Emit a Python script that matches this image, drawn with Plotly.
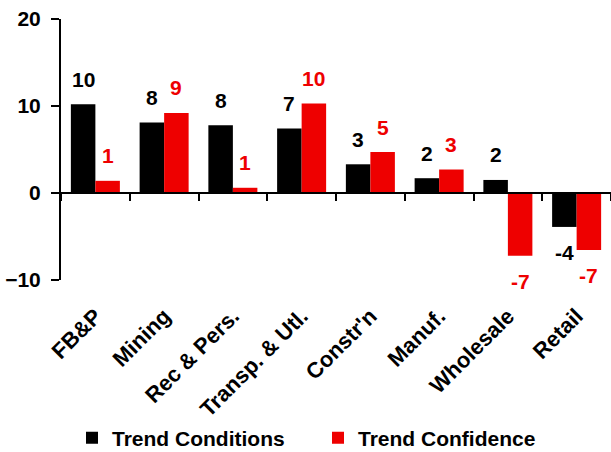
import plotly.graph_objects as go

categories = ["FB&P", "Mining", "Rec & Pers.", "Transp. & Utl.", "Constr'n", "Manuf.", "Wholesale", "Retail"]
trend_conditions = [10.2, 8.1, 7.8, 7.4, 3.3, 1.7, 1.5, -3.9]
trend_confidence = [1.4, 9.2, 0.6, 10.3, 4.7, 2.7, -7.2, -6.55]
y_ticks = [-10, 0, 10, 20]

BLACK = "#000000"
RED = "#EE0000"
FONT = "Liberation Sans, Arial, sans-serif"

fig = go.Figure()
fig.add_trace(go.Bar(x=categories, y=trend_conditions, name="Trend Conditions",
                     marker=dict(color=BLACK, line=dict(width=0)), xaxis="x2"))
fig.add_trace(go.Bar(x=categories, y=trend_confidence, name="Trend Confidence",
                     marker=dict(color=RED, line=dict(width=0)), xaxis="x2"))
# invisible trace so the label axis knows the categories
fig.add_trace(go.Scatter(x=categories, y=trend_conditions, mode="markers",
                         marker=dict(opacity=0), showlegend=False, hoverinfo="skip",
                         xaxis="x"))

bargap = 0.287
plot_w = 611 - 61
cat_w = plot_w / len(categories)
bar_w = cat_w * (1 - bargap) / 2

annotations = []
for series, color, sign in [(trend_conditions, BLACK, -1), (trend_confidence, RED, 1)]:
    for c, v in zip(categories, series):
        annotations.append(dict(
            x=c, y=v, xref="x2", yref="y", text=f"{round(v):.0f}", showarrow=False,
            xshift=sign * bar_w / 2, yshift=25 if v >= 0 else -26, yanchor="middle",
            font=dict(family=FONT, size=21, color=color, weight="bold")))

fig.update_layout(
    width=611, height=452,
    margin=dict(l=61, r=0, t=19, b=172, autoexpand=False),
    paper_bgcolor="white", plot_bgcolor="white",
    barmode="group", bargap=bargap, bargroupgap=0,
    font=dict(family=FONT, size=20, color="black", weight="bold"),
    showlegend=True,
    legend=dict(orientation="h", x=72 / 611, xanchor="left", xref="container",
                y=14 / 452, yanchor="middle", yref="container",
                font=dict(family=FONT, size=21, color="black", weight="bold"),
                entrywidth=201, entrywidthmode="pixels", tracegroupgap=0),
    yaxis=dict(range=[-10, 20], tickvals=y_ticks, showgrid=False, zeroline=False,
               showline=True, linecolor="black", linewidth=2, automargin=False,
               ticks="outside", ticklen=8, tickwidth=2, tickcolor="black",
               ticklabelstandoff=6,
               tickfont=dict(family=FONT, size=21, color="black", weight="bold")),
    xaxis=dict(type="category", categoryarray=categories, categoryorder="array",
               range=[-0.5, len(categories) - 0.5], showgrid=False, zeroline=False,
               showline=False, ticks="", tickangle=-45, automargin=False,
               ticklabelstandoff=18,
               tickfont=dict(family=FONT, size=22, color="black", weight="bold")),
    xaxis2=dict(type="category", categoryarray=categories, categoryorder="array",
                range=[-0.5, len(categories) - 0.5], overlaying="x", anchor="free",
                position=1 / 3, side="bottom", showgrid=False, zeroline=False,
                showline=True, linecolor="black", linewidth=2, automargin=False,
                ticks="outside", tickson="boundaries", ticklen=7, tickwidth=2,
                tickcolor="black", showticklabels=False),
    annotations=annotations,
)

fig.write_html("out.html", config={"displayModeBar": False},
               post_script="document.body.style.margin='0';document.body.style.overflow='hidden';")
